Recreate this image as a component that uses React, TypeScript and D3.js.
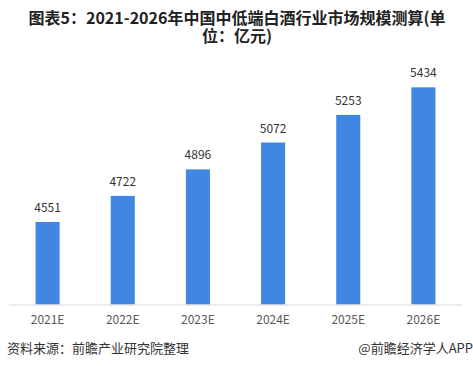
import React from "react";
import * as d3 from "d3";

const categories = ["2021E", "2022E", "2023E", "2024E", "2025E", "2026E"];
const values = [4551, 4722, 4896, 5072, 5253, 5434];
const titleLines = ["图表5：2021-2026年中国中低端白酒行业市场规模测算(单", "位：亿元)"];
const sourceText = "资料来源：前瞻产业研究院整理";
const brandText = "@前瞻经济学人APP";

const W = 473;
const H = 369;

export default function App() {
  const x = d3.scaleBand<string>().domain(categories).range([10, 461]).paddingInner(0.68).paddingOuter(0.34);
  const y = d3.scaleLinear().domain([4010, 5600]).range([304.5, 62]);
  const font = "'Microsoft YaHei','Noto Sans CJK SC','Noto Sans',sans-serif";
  return (
    <svg width={W} height={H} style={{ position: "absolute", left: 0, top: 0, background: "#fff" }}>
      <rect width={W} height={H} fill="#fff" />
      {titleLines.map((t, i) => (
        <text key={i} x={237} y={24 + i * 18} textAnchor="middle" fontFamily={font} fontWeight="bold" fontSize={16} fill="#222">
          {t}
        </text>
      ))}
      {categories.map((c, i) => (
        <g key={c}>
          <rect x={x(c)} y={y(values[i])} width={x.bandwidth()} height={y.range()[0] - y(values[i])} fill="#4186e0" />
          <text x={(x(c) as number) + x.bandwidth() / 2} y={y(values[i]) - 10} textAnchor="middle" fontFamily={font} fontSize={12} fill="#333">
            {values[i]}
          </text>
          <text x={(x(c) as number) + x.bandwidth() / 2} y={324} textAnchor="middle" fontFamily={font} fontSize={12} fill="#595959">
            {c}
          </text>
        </g>
      ))}
      <line x1={9} x2={462} y1={305} y2={305} stroke="#d9d9d9" strokeWidth={1} />
      <text x={7} y={353} fontFamily={font} fontSize={13} fill="#333">{sourceText}</text>
      <text x={473} y={353} textAnchor="end" fontFamily={font} fontSize={13} fill="#333">{brandText}</text>
    </svg>
  );
}
